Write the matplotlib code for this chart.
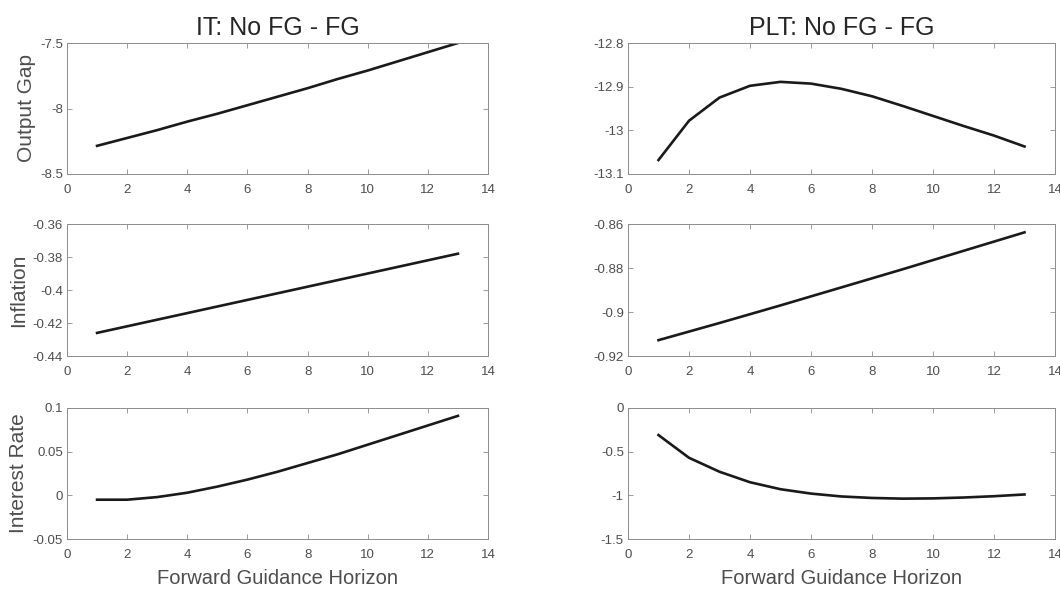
import numpy as np
import matplotlib
matplotlib.use("Agg")
from matplotlib import pyplot as plt

plt.rcParams['font.family'] = ['Liberation Sans', 'DejaVu Sans']

horizon = [1, 2, 3, 4, 5, 6, 7, 8, 9, 10, 11, 12, 13]

# IT regime: No FG - FG
it_output_gap = [-8.285, -8.225, -8.165, -8.10, -8.04, -7.975, -7.91,
                 -7.845, -7.775, -7.71, -7.64, -7.57, -7.50]
it_inflation = [-0.426, -0.422, -0.418, -0.414, -0.410, -0.406, -0.402,
                -0.398, -0.394, -0.390, -0.386, -0.382, -0.378]
it_interest = [-0.005, -0.005, -0.002, 0.003, 0.010, 0.018, 0.027,
               0.037, 0.047, 0.058, 0.069, 0.080, 0.091]

# PLT regime: No FG - FG
plt_output_gap = [-13.068, -12.978, -12.925, -12.898, -12.889, -12.893, -12.905,
                  -12.922, -12.944, -12.967, -12.990, -13.012, -13.037]
plt_inflation = [-0.9128, -0.9089, -0.9050, -0.9010, -0.8970, -0.8929, -0.8888,
                 -0.8847, -0.8806, -0.8764, -0.8722, -0.8680, -0.8638]
plt_interest = [-0.31, -0.57, -0.73, -0.85, -0.93, -0.98, -1.013,
                -1.03, -1.038, -1.035, -1.025, -1.01, -0.99]

titles = ["IT: No FG - FG", "PLT: No FG - FG"]
row_labels = ["Output Gap", "Inflation", "Interest Rate"]
series = [[it_output_gap, plt_output_gap],
          [it_inflation, plt_inflation],
          [it_interest, plt_interest]]
y_limits = [[(-8.5, -7.5), (-13.1, -12.8)],
            [(-0.44, -0.36), (-0.92, -0.86)],
            [(-0.05, 0.1), (-1.5, 0)]]
y_ticks = [[[-8.5, -8, -7.5], [-13.1, -13, -12.9, -12.8]],
           [[-0.44, -0.42, -0.4, -0.38, -0.36], [-0.92, -0.9, -0.88, -0.86]],
           [[-0.05, 0, 0.05, 0.1], [-1.5, -1, -0.5, 0]]]

W, H = 1060, 589
fig = plt.figure(figsize=(W / 100, H / 100), dpi=100)

# the right column runs off the figure edge in the original, "14" is clipped
col_px = [(67, 488), (628, 1055)]
row_px = [(43, 174), (224, 356), (408, 539)]

axis_grey = "#8c8c8c"
text_grey = "#4d4d4d"

for r in range(3):
    for c in range(2):
        x0, x1 = col_px[c]
        y0, y1 = row_px[r]
        ax = fig.add_axes([x0 / W, 1 - y1 / H, (x1 - x0) / W, (y1 - y0) / H])
        ax.plot(horizon, series[r][c], color="#1a1a1a", linewidth=1.9)
        ax.set_xlim(0, 14)
        ax.set_xticks(range(0, 15, 2))
        ax.set_ylim(*y_limits[r][c])
        ax.set_yticks(y_ticks[r][c])
        ax.set_yticklabels(["%g" % v for v in y_ticks[r][c]])
        ax.tick_params(direction="in", length=3.5, width=0.6, color=axis_grey,
                       labelcolor=text_grey, labelsize=9.5, top=True, right=True)
        ax.tick_params(axis="y", pad=3)
        ax.tick_params(axis="x", pad=7)
        for s in ax.spines.values():
            s.set_color(axis_grey)
            s.set_linewidth(0.7)
        if c == 0:
            ax.set_ylabel(row_labels[r], fontsize=15, color=text_grey, labelpad=3)
        if r == 0:
            ax.set_title(titles[c], fontsize=18, color="#262626", pad=6)
        if r == 2:
            ax.set_xlabel("Forward Guidance Horizon", fontsize=14.5, color=text_grey, labelpad=6)

fig.savefig("out.png", dpi=100)
